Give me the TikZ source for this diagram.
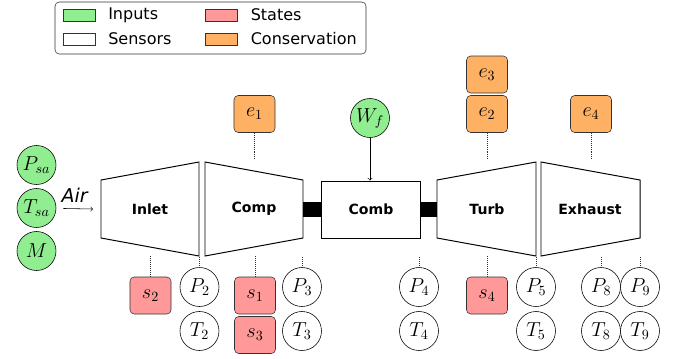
\documentclass[tikz,border=0pt]{standalone}
\usepackage{fontspec}
\setmainfont{DejaVu Sans}
\usepackage{amsmath,amssymb}
\definecolor{inpgreen}{HTML}{90EE90}
\definecolor{statered}{HTML}{FF9999}
\definecolor{consorange}{HTML}{FFB163}
\tikzset{
  inp/.style={circle, draw, fill=inpgreen, minimum size=0.975cm, inner sep=0pt, font=\Large},
  sens/.style={circle, draw, fill=white, minimum size=0.975cm, inner sep=0pt, font=\Large},
  statebox/.style={draw=black!80, rounded corners=3pt, fill=statered, minimum width=1.025cm, minimum height=0.925cm, inner sep=0pt, font=\Large},
  consbox/.style={draw=black!80, rounded corners=3pt, fill=consorange, minimum width=1.025cm, minimum height=0.925cm, inner sep=0pt, font=\Large},
  part/.style={draw, line width=0.7pt, fill=white},
  lbl/.style={font=\bfseries},
  legsw/.style={draw=black!80, minimum width=0.8cm, minimum height=0.3cm, inner sep=0pt},
  legtxt/.style={anchor=west, font=\fontsize{11.4}{13}\selectfont},
  probe/.style={densely dotted, black!80, line width=0.4pt}
}
\begin{document}
\begin{tikzpicture}[x=0.025cm, y=-0.025cm]
  \useasboundingbox (0,0) rectangle (677,358);
  % legend
  \draw[black!80, rounded corners=3pt] (55,2) rectangle (366,54);
  \node[legsw, fill=inpgreen] (lgin) at (79,15) {};
  \node[legsw, fill=white] (lgse) at (79,39) {};
  \node[legsw, fill=statered] (lgst) at (221.5,15) {};
  \node[legsw, fill=consorange] (lgco) at (221.5,39) {};
  \node[legtxt] at ([xshift=0.2cm]lgin.east) {Inputs};
  \node[legtxt] at ([xshift=0.2cm]lgse.east) {Sensors};
  \node[legtxt] at ([xshift=0.2cm]lgst.east) {States};
  \node[legtxt] at ([xshift=0.2cm]lgco.east) {Conservation};
  % levels for the probe lines
  \coordinate (top) at (0,160);
  \coordinate (bot) at (0,256);
  % engine parts
  \draw[part] (101,180) -- (199,162) -- (199,256) -- (101,238) -- cycle;
  \draw[part] (205,162) -- (303,180) -- (303,238) -- (205,256) -- cycle;
  \fill (303,202) rectangle (322,217);
  \fill (420,202) rectangle (437,217);
  \draw[part] (437,180) -- (536,162) -- (536,256) -- (437,238) -- cycle;
  \draw[part] (541,162) -- (640,180) -- (640,238) -- (541,256) -- cycle;
  \node[part, minimum width=2.45cm, minimum height=1.425cm] (comb) at (371,209.5) {};
  \node[lbl] (inlet) at (150,209) {Inlet};
  \node[lbl] (comp) at (254,209) {Comp};
  \node[lbl] at (comb) {Comb};
  \node[lbl] (turb) at (487,209) {Turb};
  \node[lbl] (exh) at (590,209) {Exhaust};
  % inputs
  \node[inp] (psa) at (36.5,165) {$P_{sa}$};
  \node[inp] (tsa) at (36.5,208) {$T_{sa}$};
  \node[inp] (m) at (36.5,251) {$M$};
  \node[inp] (wf) at (370,118) {$W_f$};
  \coordinate (inletin) at (93,209);
  \draw[->, shorten <=5pt] (tsa) -- node[above, inner sep=4.5pt, font=\fontsize{13.5}{15}\selectfont\itshape] {Air} (inletin);
  \draw[->] (wf) -- (wf |- comb.north);
  % conservation
  \node[consbox] (e1) at (254.5,114) {$e_1$};
  \node[consbox] (e2) at (487,114) {$e_2$};
  \node[consbox] (e3) at (487,74.5) {$e_3$};
  \node[consbox] (e4) at (591,114) {$e_4$};
  \foreach \n in {e1,e2,e4}
    \draw[probe] (\n) -- (\n |- top);
  % states and sensors
  \node[statebox] (s2) at (150.5,295.5) {$s_2$};
  \node[statebox] (s1) at (255,295.5) {$s_1$};
  \node[statebox] (s3) at (255,335) {$s_3$};
  \node[statebox] (s4) at (487,295.5) {$s_4$};
  \node[sens] (p2) at (199.5,287) {$P_2$};
  \node[sens] (t2) at (199.5,331) {$T_2$};
  \node[sens] (p3) at (302,287) {$P_3$};
  \node[sens] (t3) at (302,331) {$T_3$};
  \node[sens] (p4) at (419,287) {$P_4$};
  \node[sens] (t4) at (419,331) {$T_4$};
  \node[sens] (p5) at (536,287) {$P_5$};
  \node[sens] (t5) at (536,331) {$T_5$};
  \node[sens] (p8) at (601,287) {$P_8$};
  \node[sens] (t8) at (601,331) {$T_8$};
  \node[sens] (p9) at (640,287) {$P_9$};
  \node[sens] (t9) at (640,331) {$T_9$};
  \foreach \n in {s2,p2,s1,p3,p4,s4,p5,p8,p9}
    \draw[probe] (\n) -- (\n |- bot);
\end{tikzpicture}
\end{document}
